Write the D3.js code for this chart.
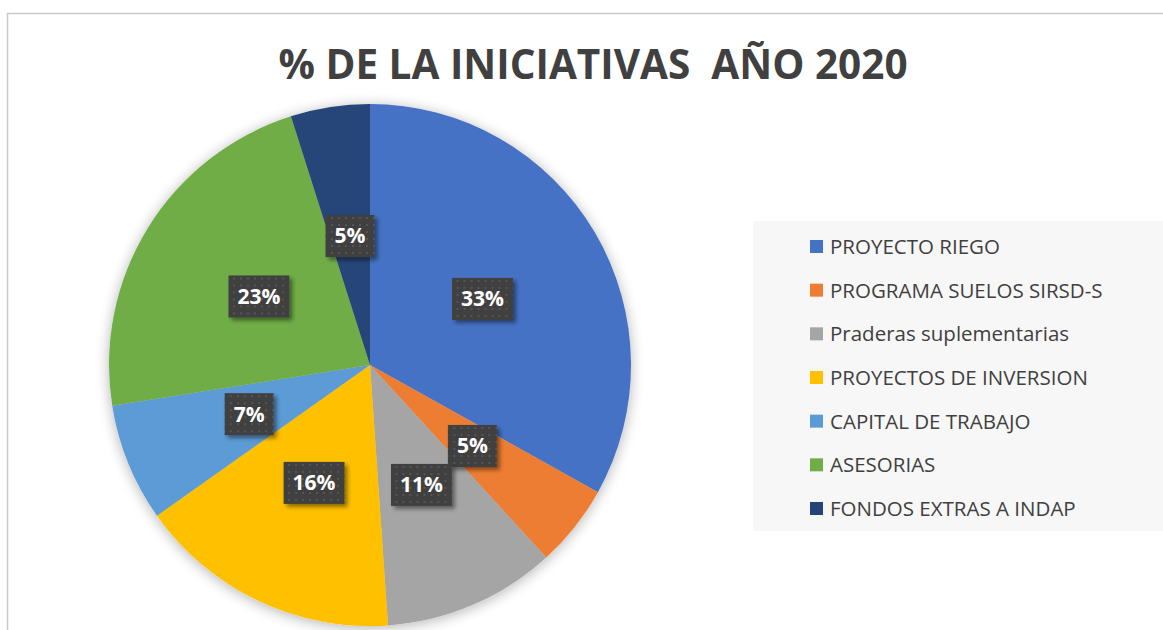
<!DOCTYPE html>
<html>
<head>
<meta charset="utf-8">
<script src="https://cdn.jsdelivr.net/npm/d3@7"></script>
<style>
  body { margin: 0; background: #fff; }
  text { font-family: "Open Sans", "Liberation Sans", sans-serif; }
</style>
</head>
<body>
<div id="chart"></div>
<script>
// data (share of each initiative, %)
var categories = ["PROYECTO RIEGO", "PROGRAMA SUELOS SIRSD-S", "Praderas suplementarias",
  "PROYECTOS DE INVERSION", "CAPITAL DE TRABAJO", "ASESORIAS", "FONDOS EXTRAS A INDAP"];
var values = [33.1, 5.1, 10.7, 16.3, 7.3, 22.6, 4.9];
var colors = ["#4472C4", "#ED7D31", "#A5A5A5", "#FFC000", "#5B9BD5", "#70AD47", "#264478"];
var title = "% DE LA INICIATIVAS  AÑO 2020";

var svgWidth = 1163;
var svgHeight = 630;

var svg = d3.select("#chart")
  .append("svg")
  .attr("width", svgWidth)
  .attr("height", svgHeight);

var defs = svg.append("defs");

// soft glow shadow around the pie
var pieShadow = defs.append("filter").attr("id", "pieShadow")
  .attr("x", "-20%").attr("y", "-20%").attr("width", "140%").attr("height", "140%");
pieShadow.append("feGaussianBlur").attr("in", "SourceAlpha").attr("stdDeviation", 7).attr("result", "blur");
pieShadow.append("feOffset").attr("dx", 0).attr("dy", 2).attr("result", "off");
pieShadow.append("feComponentTransfer").attr("in", "off").attr("result", "soft")
  .append("feFuncA").attr("type", "linear").attr("slope", 0.3);
var m1 = pieShadow.append("feMerge");
m1.append("feMergeNode").attr("in", "soft");
m1.append("feMergeNode").attr("in", "SourceGraphic");

// label box shadow
var boxShadow = defs.append("filter").attr("id", "boxShadow")
  .attr("x", "-30%").attr("y", "-30%").attr("width", "170%").attr("height", "170%");
boxShadow.append("feGaussianBlur").attr("in", "SourceAlpha").attr("stdDeviation", 2).attr("result", "blur");
boxShadow.append("feOffset").attr("dx", 3).attr("dy", 3).attr("result", "off");
boxShadow.append("feComponentTransfer").attr("in", "off").attr("result", "soft")
  .append("feFuncA").attr("type", "linear").attr("slope", 0.45);
var m2 = boxShadow.append("feMerge");
m2.append("feMergeNode").attr("in", "soft");
m2.append("feMergeNode").attr("in", "SourceGraphic");

// dotted texture for the label boxes
var pat = defs.append("pattern").attr("id", "dots")
  .attr("patternUnits", "userSpaceOnUse").attr("width", 7).attr("height", 7);
pat.append("rect").attr("width", 7).attr("height", 7).attr("fill", "#404040");
pat.append("rect").attr("x", 2).attr("y", 2).attr("width", 2).attr("height", 2).attr("fill", "#555555");

// chart area border
svg.append("rect")
  .attr("x", 7.5).attr("y", 13.5)
  .attr("width", svgWidth + 10).attr("height", svgHeight + 10)
  .attr("fill", "#fff")
  .attr("stroke", "#c9c9c9")
  .attr("stroke-width", 1.5);

// title
svg.append("text")
  .attr("x", 593)
  .attr("y", 79)
  .attr("text-anchor", "middle")
  .style("white-space", "pre")
  .attr("font-size", 40.5)
  .attr("font-weight", "bold")
  .attr("fill", "#404040")
  .text(title);

// pie
var radius = 261;
var cx = 370, cy = 365;
var total = d3.sum(values);
var data = categories.map(function (c, i) { return { name: c, value: values[i], color: colors[i] }; });

var pie = d3.pie().sort(null).value(function (d) { return d.value; });
var arc = d3.arc().innerRadius(0).outerRadius(radius);

var pieGroup = svg.append("g")
  .attr("transform", `translate(${cx}, ${cy})`);

pieGroup.append("g")
  .attr("filter", "url(#pieShadow)")
  .selectAll("path")
  .data(pie(data))
  .enter()
  .append("path")
  .attr("d", arc)
  .attr("fill", function (d) { return d.data.color; });

// data labels
var labels = pieGroup.selectAll("g.lbl")
  .data(pie(data))
  .enter()
  .append("g")
  .attr("class", "lbl")
  .attr("transform", function (d) { return `translate(${arc.centroid(d)})`; });

var boxes = labels.append("rect")
  .attr("fill", "url(#dots)")
  .attr("filter", "url(#boxShadow)");

var lblText = labels.append("text")
  .attr("text-anchor", "middle")
  .attr("dy", "0.35em")
  .attr("font-size", 21)
  .attr("font-weight", "bold")
  .attr("fill", "#fff")
  .text(function (d) { return Math.round(d.data.value / total * 100) + "%"; });

lblText.each(function () {
  var w = this.getComputedTextLength() + 18;
  d3.select(this.parentNode).select("rect")
    .attr("x", -w / 2).attr("y", -21)
    .attr("width", w).attr("height", 42);
});

// legend
var legend = svg.append("g");
legend.append("rect")
  .attr("x", 753).attr("y", 221)
  .attr("width", 420).attr("height", 310)
  .attr("fill", "#f7f7f7");

var rowY = d3.scalePoint()
  .domain(categories)
  .range([254, 516]);

var rows = legend.selectAll("g.row")
  .data(data)
  .enter()
  .append("g")
  .attr("class", "row")
  .attr("transform", function (d) { return `translate(810, ${rowY(d.name)})`; });

rows.append("rect")
  .attr("x", 0).attr("y", -14)
  .attr("width", 13).attr("height", 13)
  .attr("fill", function (d) { return d.color; });

rows.append("text")
  .attr("x", 20)
  .attr("y", 0)
  .attr("font-size", 20.5)
  .attr("fill", "#404040")
  .text(function (d) { return d.name; });
</script>
</body>
</html>
